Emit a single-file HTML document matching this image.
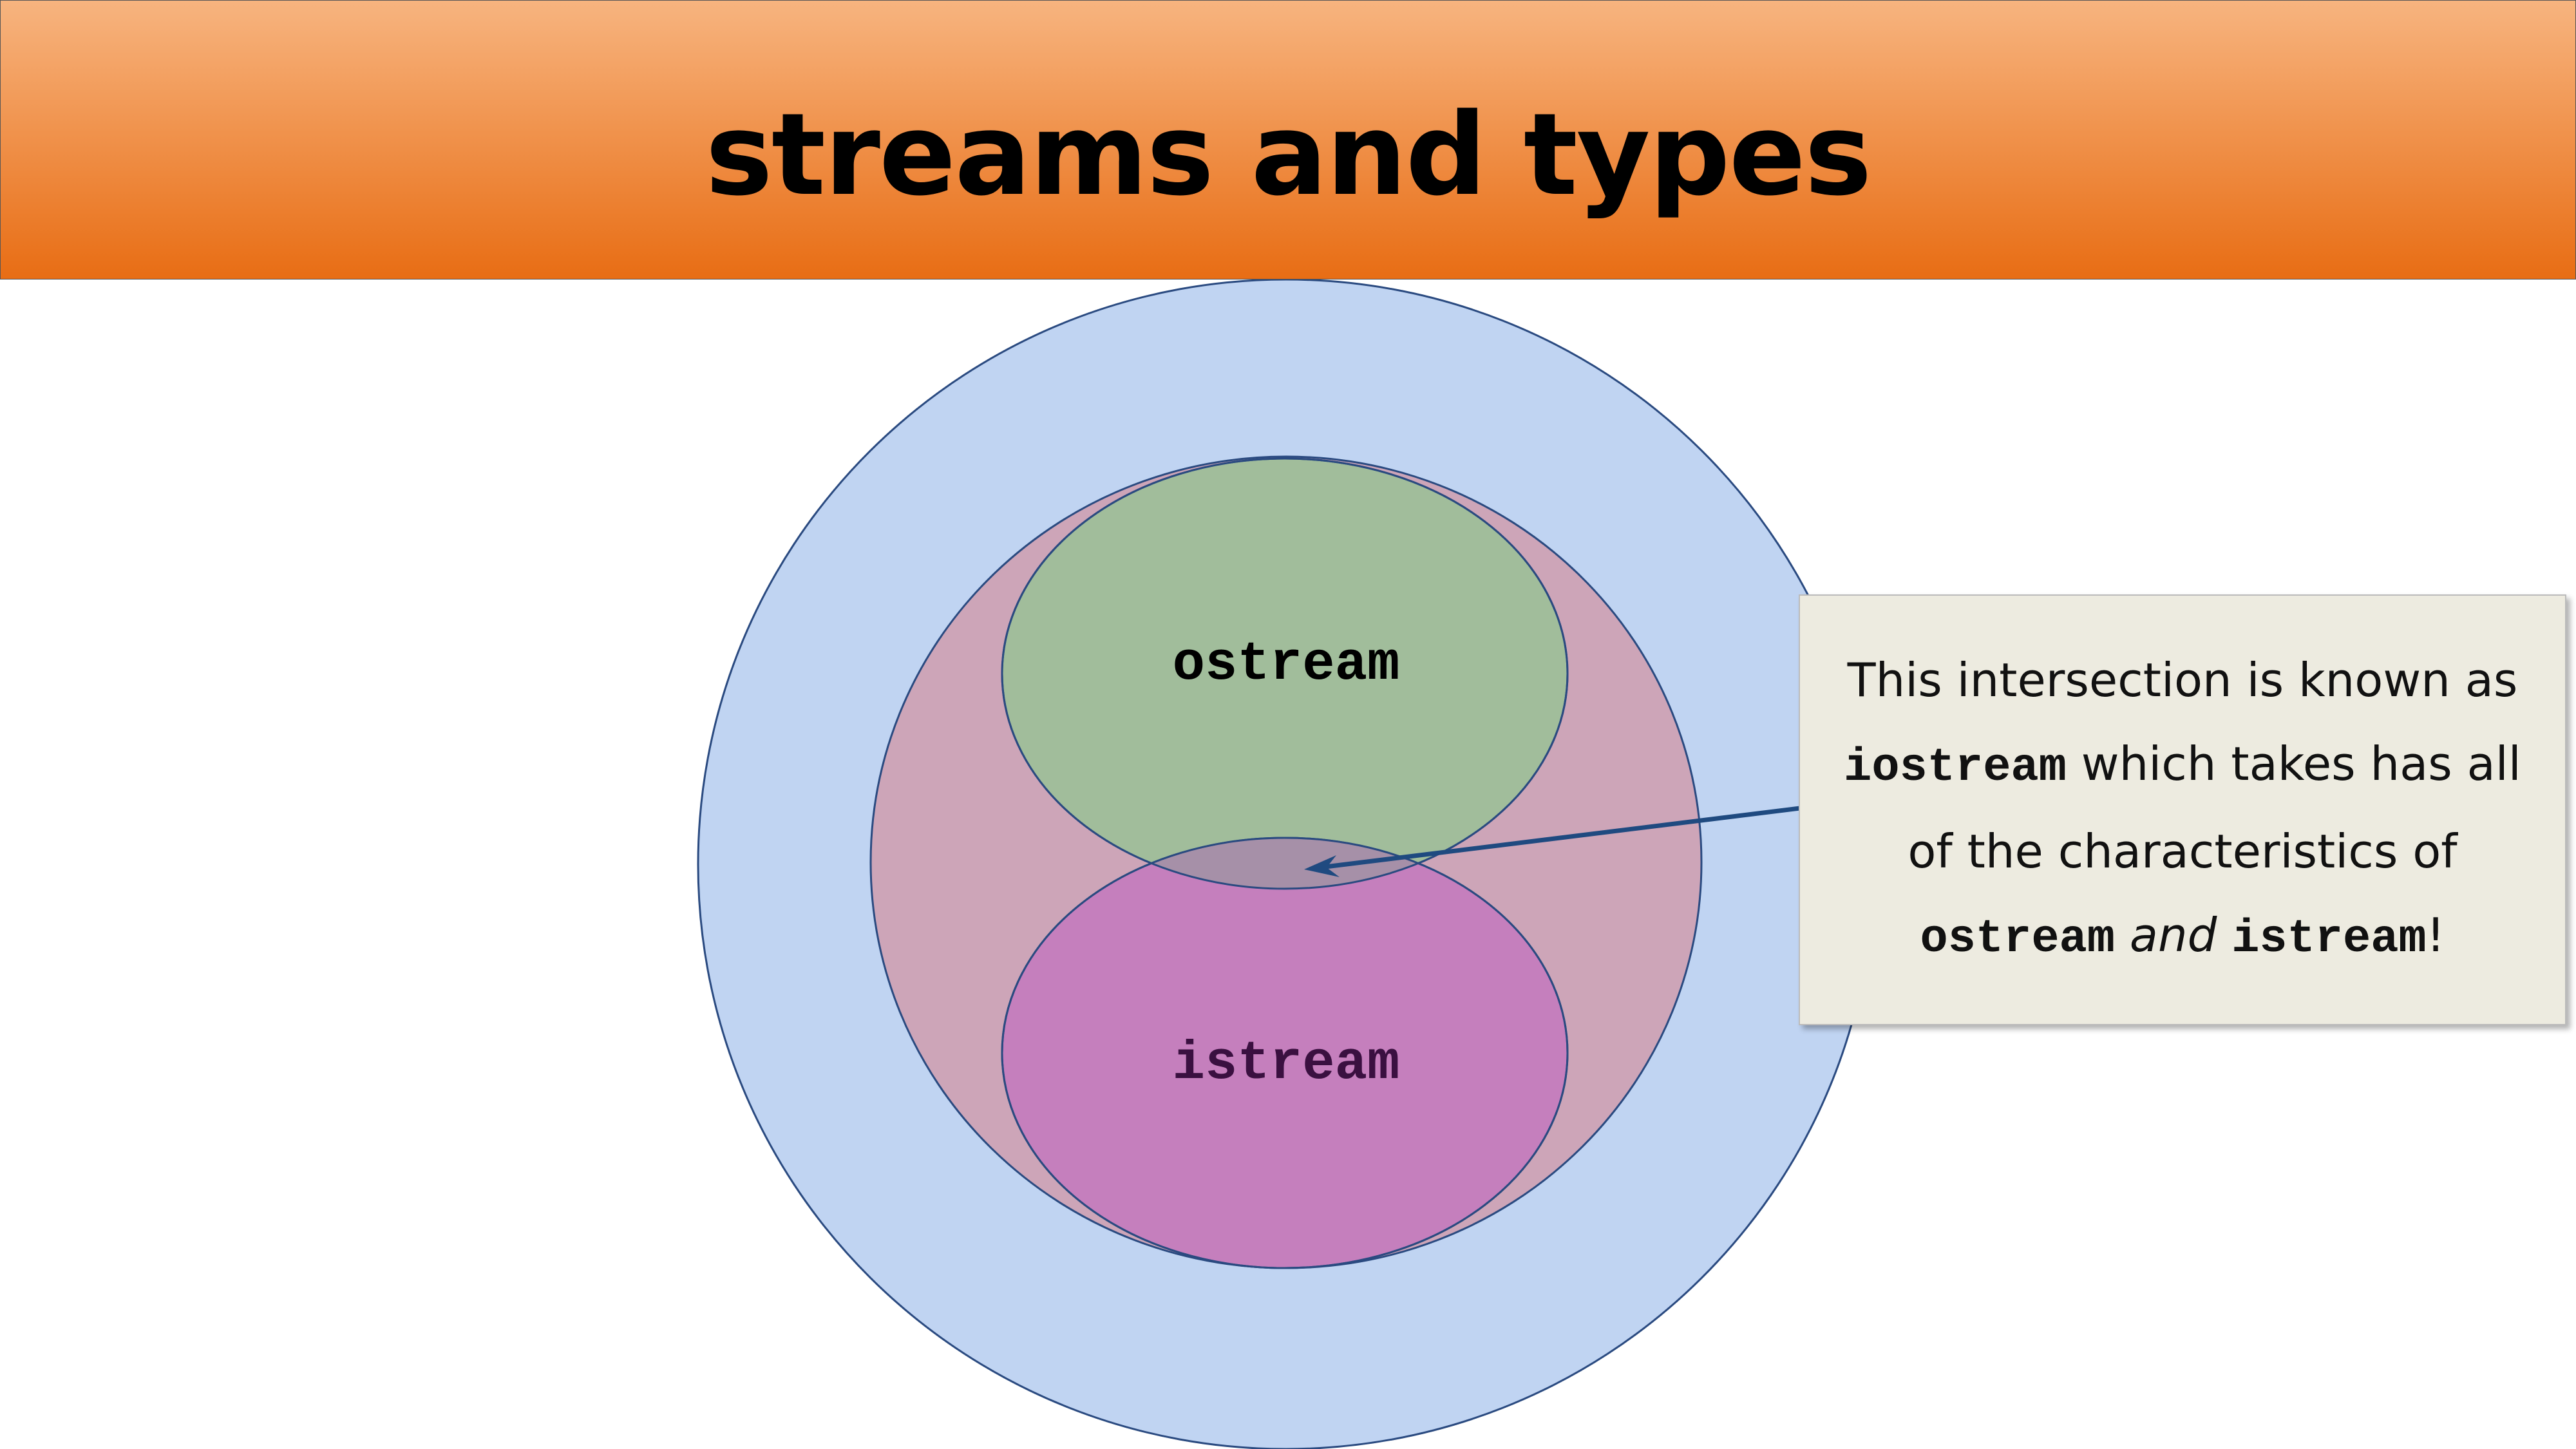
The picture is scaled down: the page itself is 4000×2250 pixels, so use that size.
<!DOCTYPE html>
<html><head><meta charset="utf-8"><style>
html,body{margin:0;padding:0;width:4000px;height:2250px;background:#fff;overflow:hidden}
.hdr{position:absolute;left:0;top:0;width:3998px;height:432px;border:1px solid #555;background:linear-gradient(#f7b47f,#e86d14);}
.title{position:absolute;left:0;top:138px;width:4000px;height:434px;line-height:434px;text-align:center;font:bold 176px "DejaVu Sans","Liberation Sans",sans-serif;color:#000;letter-spacing:-2px}
.box{position:absolute;left:2793px;top:923px;width:1192px;height:669px;background:#edebe0;border:2px solid #bbb;box-shadow:6px 6px 8px rgba(0,0,0,0.3);box-sizing:border-box;text-align:center;font:72px "DejaVu Sans","Liberation Sans",sans-serif;line-height:130px;padding-top:66px;color:#111}
.m{font-family:"Liberation Mono","DejaVu Sans Mono",monospace;font-weight:bold}
</style></head><body>
<svg width="4000" height="2250" style="position:absolute;left:0;top:0">
<defs><clipPath id="g"><ellipse cx="1995" cy="1046" rx="439" ry="334"/></clipPath></defs>
<ellipse cx="1997" cy="1342" rx="913" ry="908" fill="#c0d4f2" stroke="#2a4a80" stroke-width="3"/>
<ellipse cx="1997" cy="1339" rx="645" ry="630" fill="#cda5b8" stroke="#2a4a80" stroke-width="3"/>
<ellipse cx="1995" cy="1046" rx="439" ry="334" fill="#a1bd9b" stroke="#2a4a80" stroke-width="3"/>
<ellipse cx="1995" cy="1635" rx="439" ry="334" fill="#c57fbd" stroke="#2a4a80" stroke-width="3"/>
<ellipse cx="1995" cy="1635" rx="439" ry="334" fill="#a690a8" clip-path="url(#g)"/>
<ellipse cx="1995" cy="1046" rx="439" ry="334" fill="none" stroke="#2a4a80" stroke-width="3"/>
<ellipse cx="1995" cy="1635" rx="439" ry="334" fill="none" stroke="#2a4a80" stroke-width="3"/>
<text x="1997" y="1032" text-anchor="middle" dominant-baseline="middle" font-family="Liberation Mono, monospace" font-weight="bold" font-size="84" fill="#000">ostream</text>
<text x="1997" y="1652" text-anchor="middle" dominant-baseline="middle" font-family="Liberation Mono, monospace" font-weight="bold" font-size="84" fill="#3a1040">istream</text>
<line x1="2795" y1="1255" x2="2050" y2="1347" stroke="#1f4a80" stroke-width="7"/>
<polygon points="2025,1350 2075,1328 2060,1347 2080,1362" fill="#1f4a80"/>
</svg>
<div class="hdr"></div>
<div class="title">streams and types</div>
<div class="box">This intersection is known as<br><span class="m">iostream</span> which takes has all<br>of the characteristics of<br><span class="m">ostream</span> <i>and</i> <span class="m">istream</span>!</div>
</body></html>
